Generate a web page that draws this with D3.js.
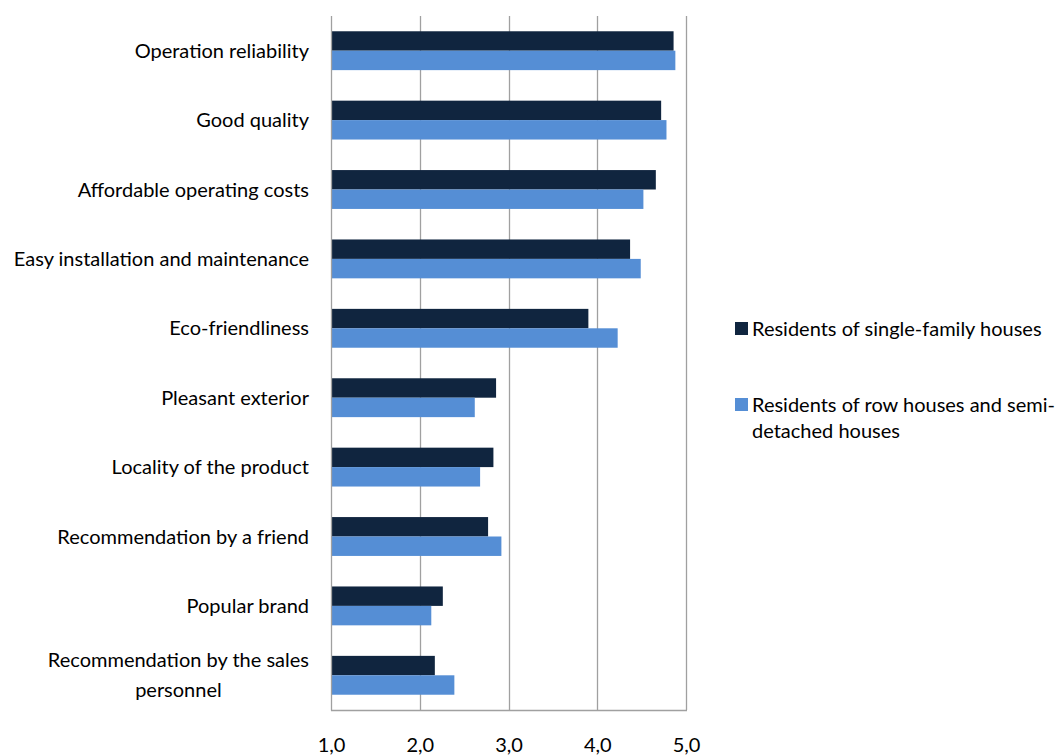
<!DOCTYPE html>
<html>
<head>
<meta charset="utf-8">
<script src="https://cdn.jsdelivr.net/npm/d3@7"></script>
<style>
  html, body { margin: 0; padding: 0; background: #fff; }
  svg { display: block; }
  text { font-family: Lato, "Open Sans", sans-serif; fill: #000; }
</style>
</head>
<body>
<svg id="chart" width="1057" height="756"></svg>
<script>
const categories = [
  "Operation reliability",
  "Good quality",
  "Affordable operating costs",
  "Easy installation and maintenance",
  "Eco-friendliness",
  "Pleasant exterior",
  "Locality of the product",
  "Recommendation by a friend",
  "Popular brand",
  "Recommendation by the sales personnel"
];
const categoryLines = [
  ["Operation reliability"],
  ["Good quality"],
  ["Affordable operating costs"],
  ["Easy installation and maintenance"],
  ["Eco-friendliness"],
  ["Pleasant exterior"],
  ["Locality of the product"],
  ["Recommendation by a friend"],
  ["Popular brand"],
  ["Recommendation by the sales", "personnel"]
];
const seriesNames = ["Residents of single-family houses", "Residents of row houses and semi-detached houses"];
const legendLines = [["Residents of single-family houses"], ["Residents of row houses and semi-", "detached houses"]];
const singleFamily = [4.86, 4.72, 4.66, 4.37, 3.90, 2.86, 2.83, 2.77, 2.26, 2.17];
const rowHouses    = [4.88, 4.78, 4.52, 4.49, 4.23, 2.62, 2.68, 2.92, 2.13, 2.39];
const tickValues = [1, 2, 3, 4, 5];
const tickLabels = ["1,0", "2,0", "3,0", "4,0", "5,0"];
const colors = ["#10253F", "#558ED5"];

const svg = d3.select("#chart");
const pLeft = 331, pRight = 686, pTop = 16, pBottom = 710;

const x = d3.scaleLinear().domain([1, 5]).range([pLeft, pRight]);
const y = d3.scaleBand().domain(categories).range([pTop, pBottom]).padding(0);
const bw = y.bandwidth();
const ySub = d3.scaleBand().domain([0, 1]).range([bw * 0.22, bw * 0.78]).padding(0);

// gridlines
svg.append("g").selectAll("line")
  .data(tickValues.slice(1))
  .join("line")
  .attr("x1", d => Math.round(x(d)) + 0.5).attr("x2", d => Math.round(x(d)) + 0.5)
  .attr("y1", pTop).attr("y2", pBottom)
  .attr("stroke", "#a0a0a0").attr("stroke-width", 1.3);

// bars
const data = categories.map((c, i) => ({ c, v: [singleFamily[i], rowHouses[i]] }));
const groups = svg.append("g").selectAll("g")
  .data(data).join("g")
  .attr("transform", d => `translate(0,${y(d.c)})`);
groups.selectAll("rect")
  .data(d => d.v.map((v, k) => ({ v, k })))
  .join("rect")
  .attr("x", x(1))
  .attr("y", d => ySub(d.k))
  .attr("width", d => x(d.v) - x(1))
  .attr("height", ySub.bandwidth())
  .attr("fill", d => colors[d.k]);

// axes lines
svg.append("line").attr("x1", pLeft + 0.5).attr("x2", pLeft + 0.5).attr("y1", pTop).attr("y2", pBottom + 0.5)
  .attr("stroke", "#a0a0a0").attr("stroke-width", 1.3);
svg.append("line").attr("x1", pLeft).attr("x2", pRight + 1).attr("y1", pBottom + 0.5).attr("y2", pBottom + 0.5)
  .attr("stroke", "#a0a0a0").attr("stroke-width", 1.3);

// x tick labels via axis
const xAxis = d3.axisBottom(x).tickValues(tickValues).tickFormat((d, i) => tickLabels[i]).tickSize(0).tickPadding(0);
const gx = svg.append("g").attr("transform", `translate(0,${pBottom})`).call(xAxis);
gx.select(".domain").remove();
gx.selectAll("text").attr("font-size", 20).attr("font-family", "Lato, sans-serif").attr("fill", "#000")
  .attr("dy", null).attr("y", 42);

// category labels (multi-line labels are centred as a block, right-aligned at x=309)
const labelRight = 309;
const labels = svg.append("g").selectAll("text")
  .data(categories).join("text")
  .attr("font-size", 20)
  .attr("y", (d) => y(d) + bw / 2 + 7);
labels.each(function(d, i) {
  const lines = categoryLines[i];
  const t = d3.select(this);
  const n = lines.length;
  lines.forEach((ln, j) => {
    t.append("tspan").attr("dy", j === 0 ? -(n - 1) * 15 : 30).text(ln);
  });
  if (n === 1) {
    t.attr("text-anchor", "end");
    t.selectAll("tspan").attr("x", labelRight);
  } else {
    let maxW = 0;
    t.selectAll("tspan").each(function() { maxW = Math.max(maxW, this.getComputedTextLength()); });
    t.attr("text-anchor", "middle");
    t.selectAll("tspan").attr("x", labelRight - maxW / 2);
  }
});

// legend
const legendY = [329, 405];
const leg = svg.append("g");
seriesNames.forEach((s, i) => {
  leg.append("rect").attr("x", 735).attr("y", legendY[i] - 7).attr("width", 13).attr("height", 13).attr("fill", colors[i]);
  const t = leg.append("text").attr("x", 752).attr("y", legendY[i] + 7).attr("font-size", 20);
  legendLines[i].forEach((ln, j) => {
    t.append("tspan").attr("x", 752).attr("dy", j === 0 ? 0 : 26).text(ln);
  });
});
</script>
</body>
</html>
